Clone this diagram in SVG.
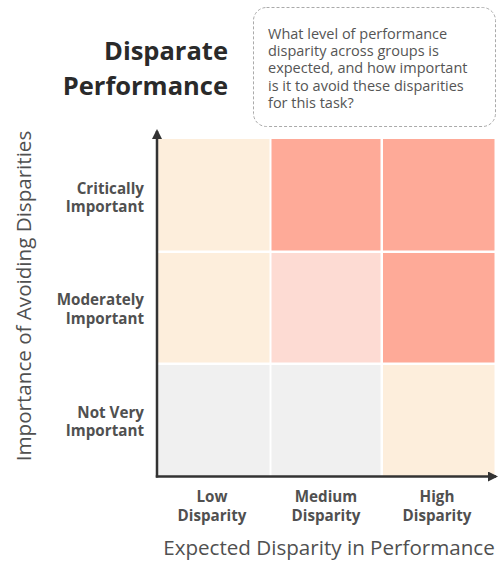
<svg xmlns="http://www.w3.org/2000/svg" width="498" height="563" viewBox="0 0 498 563">
<style>
  .title { font-family: "Open Sans", "Liberation Sans", sans-serif; font-weight: 700; font-size: 25.5px; fill: #2a2a2a; text-anchor: end; }
  .callout { font-family: "Open Sans", "Liberation Sans", sans-serif; font-size: 14.5px; fill: #555; }
  .rowlab { font-family: "Open Sans", "Liberation Sans", sans-serif; font-weight: 700; font-size: 15.2px; fill: #505050; text-anchor: end; }
  .collab { font-family: "Open Sans", "Liberation Sans", sans-serif; font-weight: 700; font-size: 15.2px; fill: #505050; text-anchor: middle; }
  .axlab { font-family: "Open Sans", "Liberation Sans", sans-serif; font-size: 20.6px; fill: #505050; text-anchor: middle; }
  .peach { fill: #FDEEDC; }
  .red { fill: #FEAA98; }
  .pink { fill: #FDDBD3; }
  .gray { fill: #F0F0F0; }
  .axis { stroke: #333; stroke-width: 2.5; fill: none; }
</style>
<defs>
  <marker id="arrow" viewBox="0 0 10 10" refX="8" refY="5" markerWidth="4" markerHeight="4" orient="auto">
    <path d="M0,0 L10,5 L0,10 z" fill="#333"/>
  </marker>
</defs>

<g id="title">
  <text class="title" x="228" y="60">Disparate</text>
  <text class="title" x="228" y="95">Performance</text>
</g>

<g id="callout">
  <rect x="253.5" y="7.5" width="242" height="119" rx="13" fill="#fff" stroke="#aaa" stroke-width="1" stroke-dasharray="3,2"/>
  <text class="callout" x="268" y="39">What level of performance</text>
  <text class="callout" x="268" y="56.2">disparity across groups is</text>
  <text class="callout" x="268" y="73.4">expected, and how important</text>
  <text class="callout" x="268" y="90.6">is it to avoid these disparities</text>
  <text class="callout" x="268" y="107.8">for this task?</text>
</g>

<g id="grid">
  <rect id="cell-r1c1" class="peach" x="158" y="139" width="111.5" height="111.5"/>
  <rect id="cell-r1c2" class="red" x="271.5" y="139" width="109" height="111.5"/>
  <rect id="cell-r1c3" class="red" x="383" y="139" width="111.5" height="111.5"/>
  <rect id="cell-r2c1" class="peach" x="158" y="253" width="111.5" height="109.5"/>
  <rect id="cell-r2c2" class="pink" x="271.5" y="253" width="109" height="109.5"/>
  <rect id="cell-r2c3" class="red" x="383" y="253" width="111.5" height="109.5"/>
  <rect id="cell-r3c1" class="gray" x="158" y="365" width="111.5" height="111"/>
  <rect id="cell-r3c2" class="gray" x="271.5" y="365" width="109" height="111"/>
  <rect id="cell-r3c3" class="peach" x="383" y="365" width="111.5" height="111"/>
</g>

<g id="axes">
  <line class="axis" x1="157" y1="477.5" x2="157" y2="131" marker-end="url(#arrow)"/>
  <line class="axis" x1="155.8" y1="476.5" x2="496" y2="476.5" marker-end="url(#arrow)"/>
</g>

<g id="row-labels">
  <text class="rowlab" x="144" y="193.6">Critically</text>
  <text class="rowlab" x="144" y="212.2">Important</text>
  <text class="rowlab" x="144" y="305">Moderately</text>
  <text class="rowlab" x="144" y="323.6">Important</text>
  <text class="rowlab" x="144" y="417.6">Not Very</text>
  <text class="rowlab" x="144" y="436.2">Important</text>
</g>

<g id="col-labels">
  <text class="collab" x="212" y="502.2">Low</text>
  <text class="collab" x="212" y="520.8">Disparity</text>
  <text class="collab" x="326" y="502.2">Medium</text>
  <text class="collab" x="326" y="520.8">Disparity</text>
  <text class="collab" x="437" y="502.2">High</text>
  <text class="collab" x="437" y="520.8">Disparity</text>
</g>

<g id="axis-titles">
  <text class="axlab" x="329" y="555">Expected Disparity in Performance</text>
  <text class="axlab" transform="translate(31,296) rotate(-90)" x="0" y="0">Importance of Avoiding Disparities</text>
</g>
</svg>
